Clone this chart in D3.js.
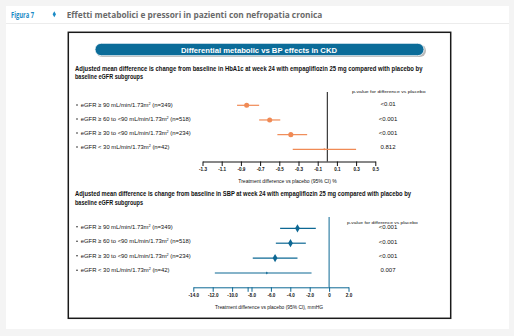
<!DOCTYPE html>
<html>
<head>
<meta charset="utf-8">
<script src="https://cdn.jsdelivr.net/npm/d3@7/dist/d3.min.js"></script>
<style>
  body { margin: 0; background: #f4f4f4; }
  svg { display: block; font-family: "Liberation Sans", Arial, sans-serif; }
</style>
</head>
<body>
<div id="vis"></div>
<script>
const ctx = {
    w: 514,
    h: 336,
    orange: "#f08a55",
    blue: "#0d6894"
};

// rows (same subgroups in both panels)
const groupLabels = ["eGFR ≥ 90 mL/min/1.73m", "eGFR ≥ 60 to <90 mL/min/1.73m", "eGFR ≥ 30 to <90 mL/min/1.73m", "eGFR < 30 mL/min/1.73m"];
const groupN = [349, 518, 234, 42];

// HbA1c panel
const hba1cEst = [-0.84, -0.60, -0.38, -0.03];
const hba1cLo = [-0.94, -0.71, -0.52, -0.36];
const hba1cHi = [-0.71, -0.49, -0.21, 0.30];
const hba1cP = ["<0.01", "<0.001", "<0.001", "0.812"];
const hba1cTicks = [-1.3, -1.1, -0.9, -0.7, -0.5, -0.3, -0.1, 0.1, 0.3, 0.5];

// SBP panel
const sbpEst = [-3.26, -3.98, -5.57, -6.42];
const sbpLo = [-5.05, -5.49, -7.87, -11.78];
const sbpHi = [-1.37, -2.40, -3.26, -1.81];
const sbpP = ["<0.001", "<0.001", "<0.001", "0.007"];
const sbpTicks = [-14, -12, -10, -8.4, -8, -6, -4, -2, 0, 2];

const svg = d3.select("#vis").append("svg")
    .attr("width", ctx.w)
    .attr("height", ctx.h);

// card + header
svg.append("rect").attr("x", 6).attr("y", 6).attr("width", 503).attr("height", 323).attr("fill", "#fff");
svg.append("line").attr("x1", 6).attr("x2", 509).attr("y1", 23.5).attr("y2", 23.5).attr("stroke", "#ececec");
svg.append("text").attr("x", 11).attr("y", 17.5)
    .style("font-family", "'Open Sans', sans-serif").style("font-weight", 700).style("font-size", "8.5px")
    .attr("fill", "#1b8ac5").attr("textLength", 23).attr("lengthAdjust", "spacingAndGlyphs")
    .text("Figura 7");
svg.append("path").attr("d", d3.symbol().type(d3.symbolDiamond).size(10)())
    .attr("transform", "translate(54.3,14.3)").attr("fill", "#1b8ac5");
svg.append("text").attr("x", 66.7).attr("y", 17.5)
    .style("font-family", "'Open Sans', sans-serif").style("font-weight", 700).style("font-size", "8.5px")
    .attr("fill", "#6a6a6a").attr("textLength", 255.6).attr("lengthAdjust", "spacingAndGlyphs")
    .text("Effetti metabolici e pressori in pazienti con nefropatia cronica");

// chart frame
svg.append("rect").attr("x", 68.3).attr("y", 32.3).attr("width", 382.4).attr("height", 286)
    .attr("fill", "none").attr("stroke", "#1a1a1a").attr("stroke-width", 1.5);

// banner
svg.append("rect").attr("x", 96).attr("y", 44.5).attr("width", 330).attr("height", 12.5).attr("rx", 6.2)
    .attr("fill", "#b9b9b9");
svg.append("rect").attr("x", 95).attr("y", 43.3).attr("width", 329).attr("height", 12.4).attr("rx", 6.2)
    .attr("fill", "#0b6c99").attr("stroke", "#fff").attr("stroke-width", 0.8);
svg.append("text").attr("x", 259).attr("y", 52.6).attr("text-anchor", "middle")
    .style("font-weight", 700).style("font-size", "8px").attr("fill", "#fff")
    .attr("textLength", 156).attr("lengthAdjust", "spacingAndGlyphs")
    .text("Differential metabolic vs BP effects in CKD");

function panel(cfg) {
    const g = svg.append("g");

    // subtitle
    cfg.title.forEach((t, i) => {
        g.append("text").attr("x", 75).attr("y", cfg.titleY + i * 8.5)
            .style("font-weight", 700).style("font-size", "6.3px").attr("fill", "#111")
            .attr("textLength", cfg.titleW[i]).attr("lengthAdjust", "spacingAndGlyphs")
            .text(t);
    });

    const x = d3.scaleLinear().domain(cfg.domain).range(cfg.range);
    const yLab = d3.scalePoint().domain(d3.range(4)).range(cfg.labY);
    const yMark = d3.scalePoint().domain(d3.range(4)).range(cfg.markY);

    // p-value header
    g.append("text").attr("x", cfg.pHeadX).attr("y", cfg.pHeadY).attr("dy", "0.35em")
        .style("font-size", "4.4px").attr("fill", "#111")
        .attr("textLength", cfg.pHeadW).attr("lengthAdjust", "spacingAndGlyphs")
        .text("p-value for difference vs placebo");

    // row labels
    const rows = g.selectAll("g.row").data(d3.range(4)).enter().append("g").attr("class", "row");
    rows.append("circle").attr("cx", 77).attr("cy", (i) => yLab(i)).attr("r", 0.8).attr("fill", "#222");
    const lab = rows.append("text").attr("x", 80.7).attr("y", (i) => yLab(i)).attr("dy", 2)
        .style("font-size", "5.9px").attr("fill", "#111");
    lab.append("tspan").text((i) => groupLabels[i]);
    lab.append("tspan").attr("dy", -2).style("font-size", "3.8px").text("2");
    lab.append("tspan").attr("dy", 2).style("font-size", "5.9px").text((i) => ` (n=${groupN[i]})`);

    // p-values
    rows.append("text").attr("x", 388).attr("y", (i) => cfg.pY[0] + i * (cfg.pY[1] - cfg.pY[0]) / 3)
        .attr("dy", "0.35em").attr("text-anchor", "middle")
        .style("font-size", "6px").attr("fill", "#111")
        .text((i) => cfg.p[i]);

    // zero line
    g.append("line").attr("x1", x(0)).attr("x2", x(0))
        .attr("y1", cfg.zeroTop).attr("y2", cfg.axisY)
        .attr("stroke", cfg.axisColor).attr("stroke-width", 1);

    // axis
    const ax = g.append("g").attr("transform", `translate(0,${cfg.axisY})`)
        .call(d3.axisBottom(x).tickValues(cfg.ticks).tickSize(4.5).tickSizeOuter(0).tickPadding(2).tickFormat(cfg.fmt));
    ax.select(".domain").attr("stroke", cfg.axisColor).attr("stroke-width", 1);
    ax.selectAll(".tick line").attr("stroke", cfg.axisColor).attr("stroke-width", 1);
    ax.selectAll(".tick text").attr("fill", "#111").style("font-size", "4.6px").style("font-weight", 700)
        .style("font-family", "'Liberation Sans', Arial, sans-serif");

    g.append("text").attr("x", cfg.axTitleX).attr("y", cfg.axisY + 21.5).attr("text-anchor", "middle")
        .style("font-size", "4.8px").attr("fill", "#111")
        .attr("textLength", cfg.axTitleW).attr("lengthAdjust", "spacingAndGlyphs")
        .text(cfg.axTitle);

    // CIs and estimates
    const marks = g.selectAll("g.mark").data(d3.range(4)).enter().append("g").attr("class", "mark");
    marks.append("line")
        .attr("x1", (i) => x(cfg.lo[i])).attr("x2", (i) => x(cfg.hi[i]))
        .attr("y1", (i) => yMark(i)).attr("y2", (i) => yMark(i))
        .attr("stroke", cfg.color).attr("stroke-width", 1.2);
    marks.append("path")
        .attr("d", (i) => d3.symbol().type(cfg.symbol).size(i === 3 ? 3 : cfg.symSize)())
        .attr("transform", (i) => `translate(${x(cfg.est[i])},${yMark(i)})`)
        .attr("fill", cfg.color);
}

panel({
    title: ["Adjusted mean difference is change from baseline in HbA1c at week 24 with empagliflozin 25 mg compared with placebo by",
            "baseline eGFR subgroups"],
    titleY: 70.6, titleW: [347.5, 68],
    domain: [-1.3, 0.5], range: [202.5, 375.3],
    ticks: hba1cTicks, fmt: (d) => d.toFixed(1),
    labY: [105, 147], markY: [105.3, 149.3], pY: [104.3, 147.3],
    pHeadX: 352, pHeadY: 91.3, pHeadW: 73.5,
    p: hba1cP, est: hba1cEst, lo: hba1cLo, hi: hba1cHi,
    zeroTop: 92, axisY: 161.5, axisColor: "#111",
    axTitle: "Treatment difference vs placebo (95% CI) %", axTitleX: 287.5, axTitleW: 98.4,
    color: ctx.orange, symbol: d3.symbolCircle, symSize: 20
});

panel({
    title: ["Adjusted mean difference is change from baseline in SBP at week 24 with empagliflozin 25 mg compared with placebo by",
            "baseline eGFR subgroups"],
    titleY: 196.2, titleW: [336, 68],
    domain: [-14, 2], range: [193.3, 348.5],
    ticks: sbpTicks, fmt: (d) => d === -8.4 ? "" : d === 0 ? "0" : d.toFixed(1),
    labY: [226.7, 270.3], markY: [228.3, 273], pY: [227.3, 270],
    pHeadX: 347, pHeadY: 222.8, pHeadW: 70.7,
    p: sbpP, est: sbpEst, lo: sbpLo, hi: sbpHi,
    zeroTop: 217, axisY: 287.3, axisColor: ctx.blue,
    axTitle: "Treatment difference vs placebo (95% CI), mmHG", axTitleX: 269, axTitleW: 108,
    color: ctx.blue, symbol: d3.symbolDiamond, symSize: 20
});
</script>
</body>
</html>
